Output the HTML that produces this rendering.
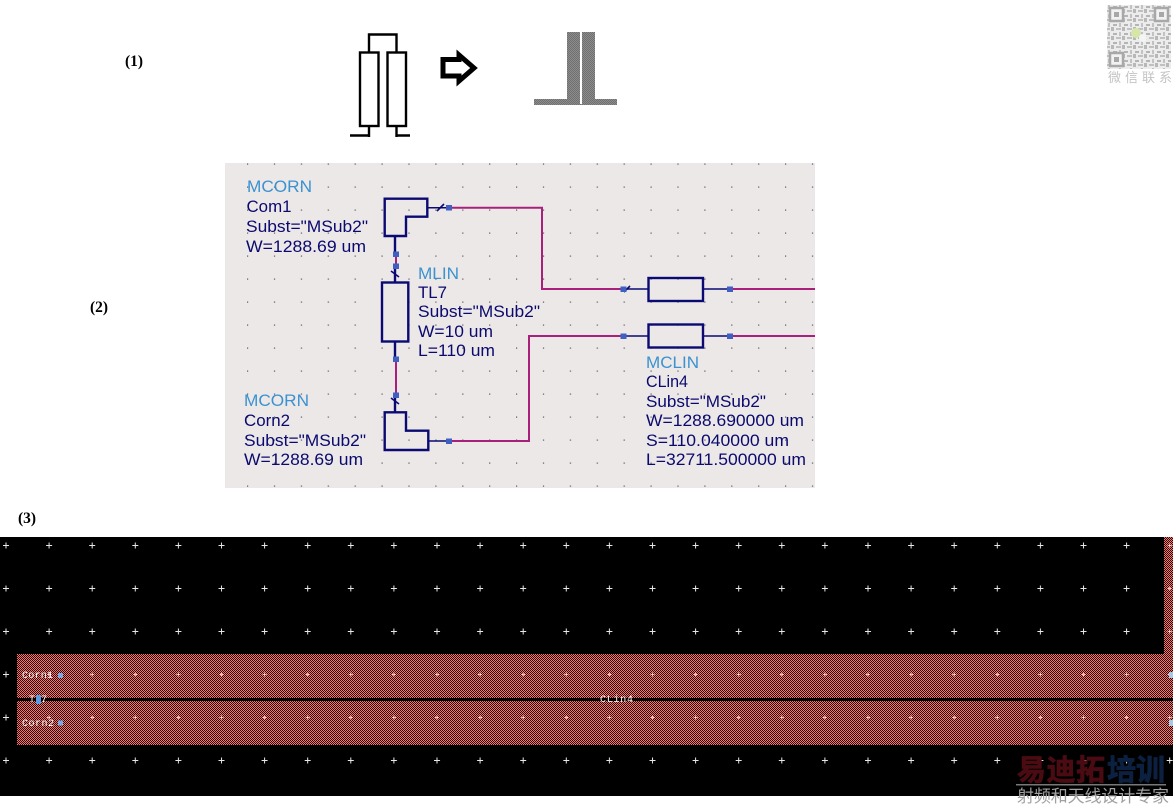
<!DOCTYPE html>
<html>
<head>
<meta charset="utf-8">
<style>
html,body{margin:0;padding:0;background:#fff;width:1176px;height:810px;overflow:hidden}
svg{display:block}
.s text{font-family:"Liberation Sans",sans-serif;font-size:16.5px;fill:#0a0a6e}
.s text.h{fill:#3a92d0}
.lb{font-family:"Liberation Serif",serif;font-weight:bold;font-size:15.5px;fill:#000}
.m{font-family:"Liberation Mono",monospace;font-size:10px;fill:#fff}
.n{stroke:#0a0a72;stroke-width:2.4;fill:none}
.r{stroke:#a8207c;stroke-width:2;fill:none}
.q{fill:#3f60c0}
</style>
</head>
<body>
<svg width="1176" height="810" viewBox="0 0 1176 810" xmlns="http://www.w3.org/2000/svg">
<defs>
<pattern id="hatch" width="2" height="2" patternUnits="userSpaceOnUse">
<rect width="2" height="2" fill="#f27874"/>
<rect width="1" height="1" fill="#300404"/>
<rect x="1" y="1" width="1" height="1" fill="#300404"/>
</pattern>
<pattern id="stip" width="2" height="2" patternUnits="userSpaceOnUse">
<rect width="2" height="2" fill="#8c8c8c"/>
<rect width="1" height="1" fill="#707070"/>
<rect x="1" y="1" width="1" height="1" fill="#707070"/>
</pattern>
<pattern id="dots" x="247" y="163.500" width="26.900" height="23" patternUnits="userSpaceOnUse">
<rect width="1.200" height="1.200" fill="#55555f"/>
</pattern>
<pattern id="cross" x="3" y="542.500" width="43.100" height="43" patternUnits="userSpaceOnUse">
<path d="M0 3H6M3 0V6" stroke="#e8e8e8" stroke-width="1"/>
</pattern>
<pattern id="crossp" x="3" y="542.500" width="43.100" height="43" patternUnits="userSpaceOnUse">
<path d="M1 3H5M3 1V5" stroke="#f8c8c0" stroke-width="1"/>
</pattern>
<pattern id="qr" width="11" height="9" patternUnits="userSpaceOnUse">
<rect width="11" height="9" fill="#ececec"/>
<rect x="0" y="0" width="3" height="4" fill="#b8b8b8"/>
<rect x="5" y="1" width="5" height="2" fill="#c0c0c0"/>
<rect x="2" y="6" width="4" height="2" fill="#b4b4b4"/>
<rect x="8" y="5" width="2" height="4" fill="#c2c2c2"/>
</pattern>
</defs>

<rect width="1176" height="810" fill="#fff"/>

<!-- Section 1 -->
<text class="lb" x="125" y="66" textLength="18" lengthAdjust="spacingAndGlyphs">(1)</text>
<g fill="none" stroke="#000" stroke-width="2.400">
<rect x="360" y="52.500" width="18.500" height="73.500" fill="#fff"/>
<rect x="387.500" y="52.500" width="18.500" height="73.500" fill="#fff"/>
<path d="M369 52V34.500H396.500V52"/>
<path d="M369 126V137M350 135.500H369M396.500 126V137M396.500 135.500H410"/>
</g>
<path d="M443 59.500H459V55L474 68 459 81V76H443Z" fill="#fff" stroke="#000" stroke-width="5"/>
<rect x="567" y="32" width="28" height="68" fill="url(#stip)"/>
<rect x="534" y="99" width="83" height="6" fill="url(#stip)"/>
<rect x="580" y="32" width="2" height="72" fill="#fff"/>

<!-- QR -->
<rect x="1107" y="5" width="64" height="64" fill="url(#qr)"/>
<g fill="none" stroke="#a8a8a8" stroke-width="2.500">
<rect x="1110" y="8" width="13" height="13" fill="#f2f2f2"/>
<rect x="1155" y="8" width="13" height="13" fill="#f2f2f2"/>
<rect x="1110" y="53" width="13" height="13" fill="#f2f2f2"/>
</g>
<rect x="1114" y="12" width="5" height="5" fill="#a8a8a8"/>
<rect x="1159" y="12" width="5" height="5" fill="#a8a8a8"/>
<rect x="1114" y="57" width="5" height="5" fill="#a8a8a8"/>
<circle cx="1136" cy="33" r="5" fill="#d6e6a8"/>
<circle cx="1143" cy="38" r="4" fill="#f4f4f4"/>
<text x="1108" y="82" font-family="'Liberation Sans','Noto Sans CJK SC',sans-serif" font-size="13" fill="#c4c4c4" textLength="64">微信联系</text>

<!-- Section 2 -->
<text class="lb" x="90" y="312" textLength="18" lengthAdjust="spacingAndGlyphs">(2)</text>
<rect x="225" y="163" width="590" height="325" fill="#ede8e8"/>
<rect x="225" y="163" width="590" height="325" fill="url(#dots)"/>
<g class="s">
<path class="r" d="M449 207.700H542V289H623"/>
<path class="r" d="M730 289H815"/>
<path class="r" d="M449 441H529V336H623"/>
<path class="r" d="M730 336H815"/>
<path class="r" d="M396 254V267"/>
<path class="r" d="M396 359V395"/>
<path class="n" d="M384.700 198.700H427.300V216.700H406V236H384.700Z"/>
<path class="n" d="M384.700 412.300H406V430.700H428.300V450H384.700Z"/>
<rect class="n" x="382" y="282.500" width="26.300" height="59"/>
<rect class="n" x="648.500" y="278" width="54.500" height="23"/>
<rect class="n" x="648.500" y="324.500" width="54.500" height="23"/>
<path class="n" d="M395 236V254M395 267V282M395 342V359M395 395V412"/>
<path d="M427 207.700H449M428 441H449M623 289H648M703 289H730M623 336H648M703 336H730" stroke="#0a0a72" stroke-width="1.500" fill="none"/>
<path d="M437 211L444 204M391 271L399 277M391 398L399 404M624 292L630 286" stroke="#0a0a72" stroke-width="1.600" fill="none"/>
<rect class="q" x="446" y="205" width="6" height="5.500"/>
<rect class="q" x="446" y="438.500" width="6" height="5.500"/>
<rect class="q" x="393" y="251.500" width="6" height="5.500"/>
<rect class="q" x="393" y="263.500" width="6" height="5.500"/>
<rect class="q" x="393" y="356.500" width="6" height="5.500"/>
<rect class="q" x="393" y="392.500" width="6" height="5.500"/>
<rect class="q" x="620.500" y="286.500" width="6" height="5.500"/>
<rect class="q" x="727" y="286.500" width="6" height="5.500"/>
<rect class="q" x="620.500" y="333.500" width="6" height="5.500"/>
<rect class="q" x="727" y="333.500" width="6" height="5.500"/>

<text class="h" x="247" y="192" textLength="65" lengthAdjust="spacingAndGlyphs">MCORN</text>
<text x="246.500" y="212" textLength="45" lengthAdjust="spacingAndGlyphs">Com1</text>
<text x="246" y="232" textLength="122" lengthAdjust="spacingAndGlyphs">Subst="MSub2"</text>
<text x="246" y="252" textLength="120" lengthAdjust="spacingAndGlyphs">W=1288.69 um</text>

<text class="h" x="418" y="279" textLength="41" lengthAdjust="spacingAndGlyphs">MLIN</text>
<text x="418" y="298" textLength="29" lengthAdjust="spacingAndGlyphs">TL7</text>
<text x="418" y="317" textLength="122" lengthAdjust="spacingAndGlyphs">Subst="MSub2"</text>
<text x="418" y="337" textLength="75" lengthAdjust="spacingAndGlyphs">W=10 um</text>
<text x="418" y="356" textLength="77" lengthAdjust="spacingAndGlyphs">L=110 um</text>

<text class="h" x="244" y="406" textLength="65" lengthAdjust="spacingAndGlyphs">MCORN</text>
<text x="244" y="426" textLength="46" lengthAdjust="spacingAndGlyphs">Corn2</text>
<text x="244" y="446" textLength="122" lengthAdjust="spacingAndGlyphs">Subst="MSub2"</text>
<text x="244" y="465" textLength="119" lengthAdjust="spacingAndGlyphs">W=1288.69 um</text>

<text class="h" x="646" y="368" textLength="53" lengthAdjust="spacingAndGlyphs">MCLIN</text>
<text x="646" y="387" textLength="42" lengthAdjust="spacingAndGlyphs">CLin4</text>
<text x="646" y="407" textLength="120" lengthAdjust="spacingAndGlyphs">Subst="MSub2"</text>
<text x="646" y="426" textLength="158" lengthAdjust="spacingAndGlyphs">W=1288.690000 um</text>
<text x="646" y="446" textLength="143" lengthAdjust="spacingAndGlyphs">S=110.040000 um</text>
<text x="646" y="465" textLength="160" lengthAdjust="spacingAndGlyphs">L=32711.500000 um</text>
</g>

<!-- Section 3 -->
<text class="lb" x="18" y="523" textLength="18" lengthAdjust="spacingAndGlyphs">(3)</text>
<rect x="0" y="537" width="1173" height="259" fill="#000"/>
<rect x="0" y="537" width="1173" height="259" fill="url(#cross)"/>
<rect x="1164" y="537" width="9" height="118" fill="url(#hatch)"/>
<rect x="17" y="654" width="1156" height="44" fill="url(#hatch)"/>
<rect x="17" y="701" width="1156" height="44" fill="url(#hatch)"/>
<rect x="17" y="654" width="1156" height="44" fill="url(#crossp)"/>
<rect x="17" y="701" width="1156" height="44" fill="url(#crossp)"/>
<rect x="1164" y="537" width="9" height="118" fill="url(#crossp)"/>
<text class="m" x="22" y="678" textLength="31">Corn1</text>
<text class="m" x="29" y="702" textLength="18">TL7</text>
<text class="m" x="22" y="726" textLength="32">Corn2</text>
<text class="m" x="600" y="702" textLength="33">CLin4</text>
<rect x="58" y="673" width="5" height="5" fill="#7aa8e0"/>
<rect x="58" y="720.500" width="5" height="5" fill="#7aa8e0"/>
<rect x="36" y="695" width="5" height="9" fill="#5a9ae0"/>
<rect x="1169" y="672" width="4" height="6" fill="#a8c8e8"/>
<rect x="1169" y="720" width="4" height="6" fill="#a8c8e8"/>

<!-- Watermark -->
<text x="1017" y="780" font-family="'Liberation Sans','Noto Sans CJK SC',sans-serif" font-weight="bold" font-size="29" fill="#4a0c12" stroke="#4a0c12" stroke-width="0.800" textLength="88">易迪拓</text>
<text x="1107" y="780" font-family="'Liberation Sans','Noto Sans CJK SC',sans-serif" font-weight="bold" font-size="29" fill="#0c2040" stroke="#0c2040" stroke-width="0.800" textLength="58">培训</text>
<rect x="1016" y="784" width="150" height="1.500" fill="#777"/>
<text x="1017" y="802" font-family="'Liberation Sans','Noto Sans CJK SC',sans-serif" font-size="17" fill="#a0a0a0" textLength="152">射频和天线设计专家</text>
</svg>
</body>
</html>
